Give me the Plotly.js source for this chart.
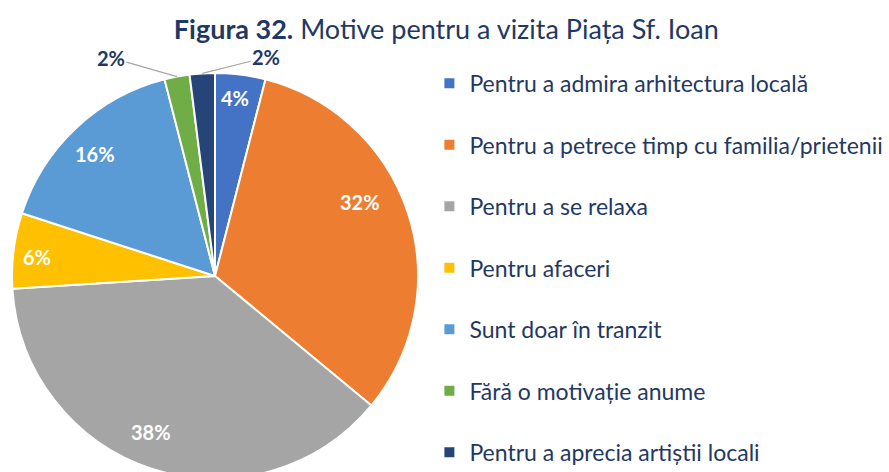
<!DOCTYPE html>
<html><head><meta charset="utf-8">
<script src="https://cdn.plot.ly/plotly-3.0.1.min.js"></script>
<style>html,body{margin:0;padding:0;overflow:hidden;background:#fff}</style>
</head><body>
<div id="chart" style="width:889px;height:480px"></div>
<script>
const categories = [
  "Pentru a admira arhitectura locală",
  "Pentru a petrece timp cu familia/prietenii",
  "Pentru a se relaxa",
  "Pentru afaceri",
  "Sunt doar în tranzit",
  "Fără o motivație anume",
  "Pentru a aprecia artiștii locali"
];
const values = [4, 32, 38, 6, 16, 2, 2];
const colors = ["#4472C4", "#ED7D31", "#A5A5A5", "#FFC000", "#5B9BD5", "#70AD47", "#264478"];

// label placement (style): radial fraction, angle tweak (deg), outside offsets (px)
const labelInside   = [true, true, true, true, true, false, false];
const labelRadius   = [0.88, 0.80, 0.83, 0.88, 0.84, 1, 1];
const labelAngleAdj = [-0.8, -9, 4.5, -1, -1.3, 0, 0];
const labelAx       = [0, 0, 0, 0, 0, -66, 64];
const labelAy       = [0, 0, 0, 0, 0, -19, -16];

const FONT = "Lato, 'Open Sans', sans-serif";
const NAVY = "#1F3864";
const W = 889, H = 480;
const DOM_X = [0.0135, 0.4702], DOM_Y = [0.002, 0.848];

const pie = {
  type: "pie",
  labels: categories,
  values: values,
  sort: false,
  direction: "clockwise",
  rotation: 0,
  marker: {colors: colors, line: {color: "#FFFFFF", width: 2}},
  textinfo: "none",
  domain: {x: DOM_X, y: DOM_Y},
  showlegend: false,
  hoverinfo: "label+percent"
};

const legendTraces = categories.map((c, i) => ({
  type: "scatter",
  mode: "markers",
  x: [null], y: [null],
  name: c,
  legendgroup: "g" + i,
  marker: {symbol: "square", size: 10, color: colors[i]},
  showlegend: true,
  hoverinfo: "skip"
}));

// compute label anchor points from the data (slice mid-angles)
const total = values.reduce((a, b) => a + b, 0);
const cx = (DOM_X[0] + DOM_X[1]) / 2 * W;
const cy = (1 - (DOM_Y[0] + DOM_Y[1]) / 2) * H;
const R = Math.min((DOM_X[1] - DOM_X[0]) * W, (DOM_Y[1] - DOM_Y[0]) * H) / 2;
let cum = 0;
const annotations = values.map((v, i) => {
  const mid = (cum + v / 2) / total * 360 + labelAngleAdj[i];
  cum += v;
  const a = mid * Math.PI / 180;
  const r = R * labelRadius[i];
  const px = cx + r * Math.sin(a);
  const py = cy - r * Math.cos(a);
  const base = {
    xref: "paper", yref: "paper",
    x: px / W, y: 1 - py / H,
    text: "<b>" + v + "%</b>",
    font: {family: FONT, size: 20, color: labelInside[i] ? "#FFFFFF" : NAVY}
  };
  if (labelInside[i]) {
    return Object.assign(base, {showarrow: false, xanchor: "center", yanchor: "middle"});
  }
  return Object.assign(base, {
    showarrow: true, arrowhead: 0, arrowwidth: 1.2, arrowcolor: "#A6A6A6",
    ax: labelAx[i], ay: labelAy[i], standoff: 0, startstandoff: 0
  });
});

const layout = {
  width: W, height: H,
  margin: {l: 0, r: 0, t: 0, b: 0},
  paper_bgcolor: "#FFFFFF",
  plot_bgcolor: "#FFFFFF",
  font: {family: FONT, color: NAVY},
  title: {
    text: "<b>Figura 32.</b> Motive pentru a vizita Piața Sf. Ioan",
    font: {family: FONT, size: 27, color: NAVY},
    x: 0.502, xanchor: "center", y: 0.9375, yanchor: "middle"
  },
  xaxis: {visible: false}, yaxis: {visible: false},
  annotations: annotations,
  showlegend: true,
  legend: {
    x: 0.483, xanchor: "left", y: 0.871, yanchor: "top",
    font: {family: FONT, size: 23, color: NAVY},
    tracegroupgap: 28.6,
    itemclick: false, itemdoubleclick: false
  }
};

Plotly.newPlot("chart", [pie].concat(legendTraces), layout, {displayModeBar: false, staticPlot: true});
</script>
</body></html>
